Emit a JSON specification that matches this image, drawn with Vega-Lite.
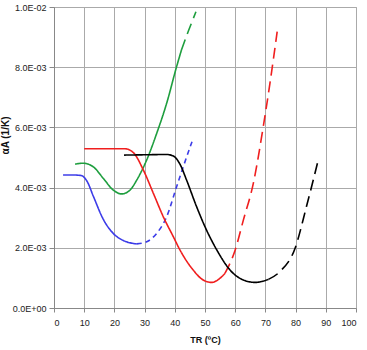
{
  "$schema": "https://vega.github.io/schema/vega-lite/v6.json",
  "width": 302,
  "height": 301,
  "autosize": {"type": "none"},
  "padding": {"left": 54, "top": 7, "right": 11, "bottom": 42},
  "background": "white",
  "config": {
    "view": {"stroke": "#AAAAAA"},
    "font": "Liberation Sans",
    "axis": {"labelFont": "Liberation Sans", "titleFont": "Liberation Sans", "labelFontSize": 9, "labelColor": "#222222", "gridColor": "#AAAAAA", "gridWidth": 1, "domainColor": "#888888", "tickColor": "#888888", "titleColor": "#111111"}
  },
  "data": {"values": [
    {"s": "A", "d": "solid", "T": 3, "a": 0.00442},
    {"s": "A", "d": "solid", "T": 6, "a": 0.00442},
    {"s": "A", "d": "solid", "T": 9, "a": 0.0044},
    {"s": "A", "d": "solid", "T": 11, "a": 0.0042},
    {"s": "A", "d": "solid", "T": 13, "a": 0.00372},
    {"s": "A", "d": "solid", "T": 16.3, "a": 0.00295},
    {"s": "A", "d": "solid", "T": 19.6, "a": 0.00248},
    {"s": "A", "d": "solid", "T": 23, "a": 0.00224},
    {"s": "A", "d": "solid", "T": 25, "a": 0.00217},
    {"s": "A", "d": "solid", "T": 27.4, "a": 0.00213},
    {"s": "A", "d": "short", "T": 27.4, "a": 0.00213},
    {"s": "A", "d": "short", "T": 30.7, "a": 0.0022},
    {"s": "A", "d": "short", "T": 34, "a": 0.00248},
    {"s": "A", "d": "short", "T": 37.3, "a": 0.00303},
    {"s": "A", "d": "short", "T": 40.6, "a": 0.00403},
    {"s": "A", "d": "short", "T": 42.8, "a": 0.00469},
    {"s": "A", "d": "short", "T": 46.1, "a": 0.00564},
    {"s": "B", "d": "solid", "T": 7, "a": 0.00478},
    {"s": "B", "d": "solid", "T": 9.7, "a": 0.00481},
    {"s": "B", "d": "solid", "T": 13, "a": 0.00469},
    {"s": "B", "d": "solid", "T": 16.3, "a": 0.00431},
    {"s": "B", "d": "solid", "T": 19.6, "a": 0.00392},
    {"s": "B", "d": "solid", "T": 22.4, "a": 0.00379},
    {"s": "B", "d": "solid", "T": 25.2, "a": 0.00392},
    {"s": "B", "d": "solid", "T": 27.4, "a": 0.00425},
    {"s": "B", "d": "solid", "T": 30.7, "a": 0.00492},
    {"s": "B", "d": "solid", "T": 34, "a": 0.0058},
    {"s": "B", "d": "solid", "T": 37.3, "a": 0.0068},
    {"s": "B", "d": "solid", "T": 40.6, "a": 0.00802},
    {"s": "B", "d": "solid", "T": 42.2, "a": 0.00857},
    {"s": "B", "d": "long", "T": 42.2, "a": 0.00857},
    {"s": "B", "d": "long", "T": 44.5, "a": 0.0092},
    {"s": "B", "d": "long", "T": 47, "a": 0.00984},
    {"s": "C", "d": "solid", "T": 10, "a": 0.00529},
    {"s": "C", "d": "solid", "T": 23.5, "a": 0.00529},
    {"s": "C", "d": "solid", "T": 26.3, "a": 0.00516},
    {"s": "C", "d": "solid", "T": 29.6, "a": 0.00458},
    {"s": "C", "d": "solid", "T": 32.9, "a": 0.00381},
    {"s": "C", "d": "solid", "T": 36.2, "a": 0.00303},
    {"s": "C", "d": "solid", "T": 39.5, "a": 0.00237},
    {"s": "C", "d": "solid", "T": 41.7, "a": 0.00193},
    {"s": "C", "d": "solid", "T": 46.1, "a": 0.00126},
    {"s": "C", "d": "solid", "T": 49.4, "a": 0.00093},
    {"s": "C", "d": "solid", "T": 52.2, "a": 0.00085},
    {"s": "C", "d": "solid", "T": 55, "a": 0.00099},
    {"s": "C", "d": "solid", "T": 56.6, "a": 0.00115},
    {"s": "C", "d": "long", "T": 56.6, "a": 0.00115},
    {"s": "C", "d": "long", "T": 60, "a": 0.00193},
    {"s": "C", "d": "long", "T": 62.7, "a": 0.00292},
    {"s": "C", "d": "long", "T": 66, "a": 0.00414},
    {"s": "C", "d": "long", "T": 69.3, "a": 0.00603},
    {"s": "C", "d": "long", "T": 71.5, "a": 0.00746},
    {"s": "C", "d": "long", "T": 73.9, "a": 0.00918},
    {"s": "D", "d": "solid", "T": 23.2, "a": 0.00508},
    {"s": "D", "d": "solid", "T": 30, "a": 0.00509},
    {"s": "D", "d": "solid", "T": 37.3, "a": 0.0051},
    {"s": "D", "d": "solid", "T": 39.5, "a": 0.00505},
    {"s": "D", "d": "solid", "T": 41.7, "a": 0.00478},
    {"s": "D", "d": "solid", "T": 43.9, "a": 0.00425},
    {"s": "D", "d": "solid", "T": 47.2, "a": 0.00337},
    {"s": "D", "d": "solid", "T": 50.5, "a": 0.00259},
    {"s": "D", "d": "solid", "T": 53.9, "a": 0.00193},
    {"s": "D", "d": "solid", "T": 58.3, "a": 0.00126},
    {"s": "D", "d": "solid", "T": 62.7, "a": 0.00093},
    {"s": "D", "d": "solid", "T": 66.6, "a": 0.00085},
    {"s": "D", "d": "solid", "T": 71, "a": 0.00095},
    {"s": "D", "d": "long", "T": 71, "a": 0.00095},
    {"s": "D", "d": "long", "T": 74.8, "a": 0.00121},
    {"s": "D", "d": "long", "T": 79.8, "a": 0.00198},
    {"s": "D", "d": "long", "T": 83.6, "a": 0.00337},
    {"s": "D", "d": "long", "T": 87.5, "a": 0.00492}
  ]},
  "mark": {"type": "line", "interpolate": "monotone", "strokeWidth": 1.6},
  "encoding": {
    "x": {"field": "T", "type": "quantitative", "scale": {"domain": [0, 100], "nice": false},
      "axis": {"values": [0,10,20,30,40,50,60,70,80,90,100], "title": "TR (ºC)", "titleFontSize": 9, "titleFontWeight": "bold", "titlePadding": 8, "labelPadding": 6, "tickSize": 4}},
    "y": {"field": "a", "type": "quantitative", "scale": {"domain": [0, 0.01], "nice": false},
      "axis": {"values": [0, 0.002, 0.004, 0.006, 0.008, 0.01], "labelExpr": "datum.value == 0 ? '0.0E+00' : (datum.value > 0.0099 ? '1.0E-02' : format(datum.value*1000, '.1f') + 'E-03')", "title": "αA (1/K)", "titleFontSize": 10, "titleFontWeight": "bold", "titlePadding": 2, "tickSize": 5, "labelPadding": 3, "titleY": 128}},
    "color": {"field": "s", "type": "nominal", "legend": null,
      "scale": {"domain": ["A", "B", "C", "D"], "range": ["#3C3CE8", "#1E9E3E", "#F01E1E", "#000000"]}},
    "strokeDash": {"field": "d", "type": "nominal", "legend": null,
      "scale": {"domain": ["solid", "short", "long"], "range": [[1, 0], [5, 4], [11, 6]]}},
    "order": {"field": "T", "type": "quantitative"}
  }
}
